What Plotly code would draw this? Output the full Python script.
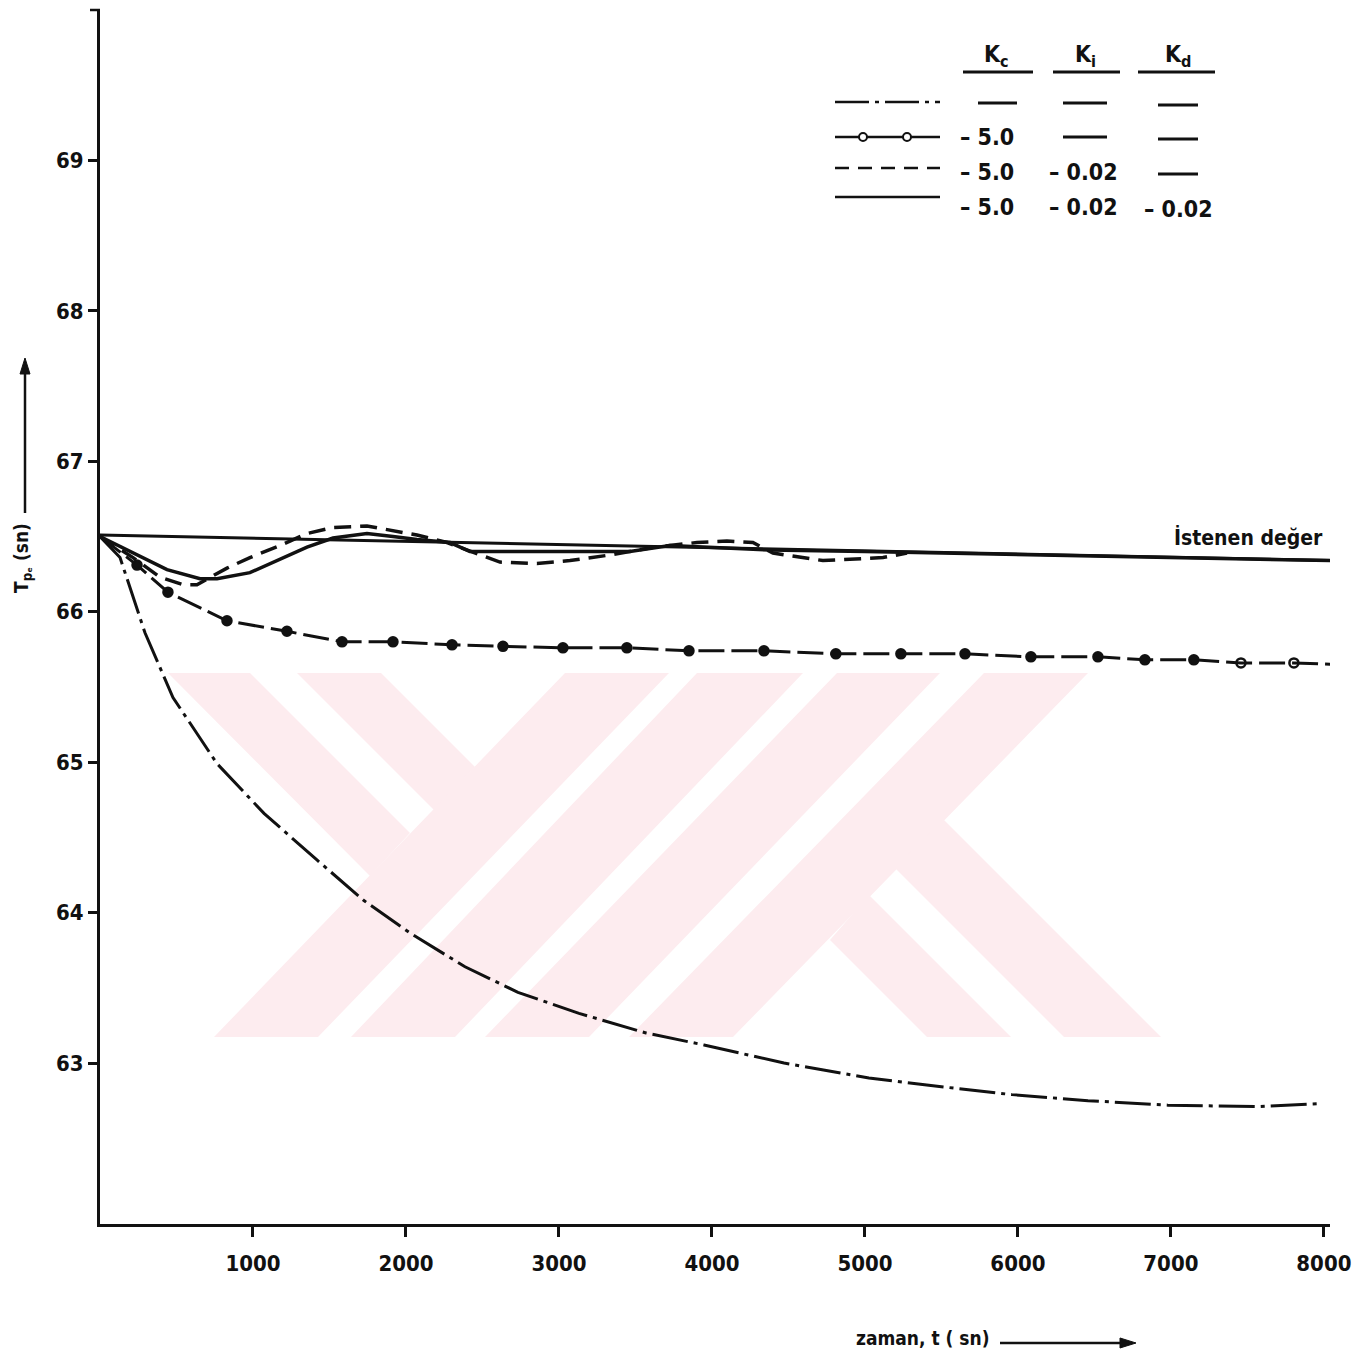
import plotly.graph_objects as go

# ---------------- data ----------------
# setpoint line "İstenen değer"
t_set = [0, 8050]
y_set = [66.51, 66.34]

# Kc = Kd = Ki = 0 (dash-dot)
t_none = [0, 131, 294, 477, 765, 1072, 1418, 1725, 2033, 2386, 2732, 3131, 3569,
          3948, 4471, 5026, 5523, 5961, 6458, 6980, 7562, 7974]
y_none = [66.50, 66.36, 65.86, 65.43, 64.99, 64.66, 64.35, 64.08, 63.86, 63.64, 63.47,
          63.33, 63.20, 63.12, 63.00, 62.90, 62.84, 62.79, 62.75, 62.72, 62.71, 62.73]

# Kc = -5.0 (line with circles)
t_p_line = [0, 242, 444, 830, 1222, 1582, 1915, 2301, 2634, 3026, 3444, 3850, 4340,
            4810, 5235, 5654, 6085, 6523, 6830, 7150, 7458, 7804, 8060]
y_p_line = [66.50, 66.31, 66.13, 65.94, 65.87, 65.80, 65.80, 65.78, 65.77, 65.76, 65.76,
            65.74, 65.74, 65.72, 65.72, 65.72, 65.70, 65.70, 65.68, 65.68, 65.66, 65.66, 65.65]
t_p_mark = t_p_line[1:-1]
y_p_mark = y_p_line[1:-1]
open_marks = [False] * 19 + [True, True]

# Kc = -5.0, Ki = -0.02 (dashed)
t_pi = [0, 216, 392, 542, 634, 830, 980, 1176, 1353, 1523, 1745, 1915, 2072, 2268,
        2614, 2856, 3072, 3353, 3627, 3902, 4098, 4268, 4399, 4725, 4948, 5118, 5275]
y_pi = [66.50, 66.36, 66.23, 66.18, 66.18, 66.29, 66.36, 66.44, 66.52, 66.56, 66.57,
        66.54, 66.51, 66.46, 66.33, 66.32, 66.34, 66.38, 66.43, 66.46, 66.47, 66.46,
        66.39, 66.34, 66.35, 66.36, 66.39]

# Kc = -5.0, Ki = -0.02, Kd = -0.02 (solid)
t_pid = [0, 216, 438, 654, 765, 980, 1196, 1353, 1523, 1745, 1915, 2072, 2288, 2418,
         2745, 3268, 3464, 3725, 4379, 5000, 6000, 7000, 8050]
y_pid = [66.50, 66.39, 66.28, 66.22, 66.22, 66.26, 66.36, 66.43, 66.49, 66.52, 66.50,
         66.48, 66.46, 66.40, 66.40, 66.40, 66.40, 66.44, 66.41, 66.40, 66.38, 66.36, 66.34]

x_ticks = [1000, 2000, 3000, 4000, 5000, 6000, 7000, 8000]
x_ticktext = ["1000", "2000", "3000", "4000", "5000", "6000", "7000", "8000"]
y_ticks = [63, 64, 65, 66, 67, 68, 69]
y_ticktext = ["63", "64", "65", "66", "67", "68", "69"]

legend_rows = [
    ["", "", ""],
    ["– 5.0", "", ""],
    ["– 5.0", "– 0.02", ""],
    ["– 5.0", "– 0.02", "– 0.02"],
]

# ---------------- layout geometry (screen pixels; page body has an 8px margin) ----------------
OFF = 8
W, H = 1361 - 2 * OFF, 1358 - 2 * OFF
PL, PR, PT, PB = 100, 1330, 10, 1224          # plot area on screen
L, R, T, B = PL - OFF, (OFF + W) - PR, PT - OFF, (OFF + H) - PB
PW, PH = PR - PL, PB - PT


def px(x):
    return (x - PL) / PW


def py(y):
    return (PB - y) / PH


FONT = "DejaVu Sans Condensed, DejaVu Sans, sans-serif"
BLACK = "#111111"

fig = go.Figure()

fig.add_trace(go.Scatter(x=t_none, y=y_none, mode="lines",
                         line=dict(color=BLACK, width=3, dash="36px,6px,4px,6px"),
                         hoverinfo="skip"))
fig.add_trace(go.Scatter(x=t_p_line, y=y_p_line, mode="lines",
                         line=dict(color=BLACK, width=3, dash="26px,7px"),
                         hoverinfo="skip", cliponaxis=False))
fig.add_trace(go.Scatter(x=t_p_mark, y=y_p_mark, mode="markers",
                         marker=dict(size=9,
                                     symbol=["circle-open" if o else "circle" for o in open_marks],
                                     color=BLACK, line=dict(width=2.5, color=BLACK)),
                         hoverinfo="skip"))
fig.add_trace(go.Scatter(x=t_pi, y=y_pi, mode="lines",
                         line=dict(color=BLACK, width=3.5, dash="17px,9px"),
                         hoverinfo="skip"))
fig.add_trace(go.Scatter(x=t_pid, y=y_pid, mode="lines",
                         line=dict(color=BLACK, width=3.5),
                         hoverinfo="skip", cliponaxis=False))
fig.add_trace(go.Scatter(x=t_set, y=y_set, mode="lines+markers",
                         line=dict(color=BLACK, width=3),
                         marker=dict(size=[0, 8], color=BLACK),
                         hoverinfo="skip", cliponaxis=False))

shapes = []

# watermark (pale pink stripes), polygons in screen pixels
wm_polys = [
    [(168, 673), (250, 673), (410, 833), (370, 876)],
    [(297, 673), (381, 673), (475, 767), (434, 810)],
    [(214, 1037), (318, 1037), (669, 673), (565, 673)],
    [(351, 1037), (455, 1037), (803, 673), (697, 673)],
    [(485, 1037), (589, 1037), (940, 673), (837, 673)],
    [(629, 1037), (733, 1037), (1088, 673), (984, 673)],
    [(927, 1037), (1011, 1037), (869, 895), (830, 940)],
    [(1064, 1037), (1161, 1037), (943, 819), (895, 868)],
]
for poly in wm_polys:
    path = "M " + " L ".join(f"{px(a):.5f},{py(b):.5f}" for a, b in poly) + " Z"
    shapes.append(dict(type="path", path=path, xref="paper", yref="paper",
                       fillcolor="#fdecef", line=dict(width=0), layer="below"))

# small tick at top of the y axis
shapes.append(dict(type="line", xref="paper", yref="paper", x0=px(90), x1=px(100),
                   y0=1, y1=1, line=dict(color=BLACK, width=2.5)))

# legend table: header underlines
for x0, x1 in [(963, 1033), (1053, 1120), (1138, 1215)]:
    shapes.append(dict(type="line", xref="paper", yref="paper", x0=px(x0), x1=px(x1),
                       y0=py(72), y1=py(72), line=dict(color=BLACK, width=3)))

# legend line samples
sample_y = [102, 137, 168, 197]
sample_dash = ["34px,6px,4px,6px", "solid", "14px,9px", "solid"]
for yy, d in zip(sample_y, sample_dash):
    shapes.append(dict(type="line", xref="paper", yref="paper", x0=px(835), x1=px(940),
                       y0=py(yy), y1=py(yy), line=dict(color=BLACK, width=2.5, dash=d)))
for cx in [863, 907]:
    shapes.append(dict(type="circle", xref="paper", yref="paper",
                       x0=px(cx - 4), x1=px(cx + 4), y0=py(137 + 4), y1=py(137 - 4),
                       fillcolor="white", line=dict(color=BLACK, width=2)))

# legend "no value" bars and values
col_dash = [(978, 1017), (1063, 1107), (1158, 1198)]
col_center = [987, 1083, 1178]
row_text_y = [103, 137, 172, 207]
annotations = []
for r, row in enumerate(legend_rows):
    for c, val in enumerate(row):
        yy = row_text_y[r] + (2 if c == 2 else 0)
        if val == "":
            x0, x1 = col_dash[c]
            shapes.append(dict(type="line", xref="paper", yref="paper", x0=px(x0), x1=px(x1),
                               y0=py(yy), y1=py(yy), line=dict(color=BLACK, width=3)))
        else:
            annotations.append(dict(x=px(col_center[c]), y=py(yy),
                                    xref="paper", yref="paper", text=val, showarrow=False,
                                    xanchor="center", yanchor="middle",
                                    font=dict(family=FONT, size=23, color=BLACK, weight="bold")))

for label, cx in [("K<sub>c</sub>", 996), ("K<sub>i</sub>", 1085), ("K<sub>d</sub>", 1178)]:
    annotations.append(dict(x=px(cx), y=py(56), xref="paper", yref="paper", text=label,
                            showarrow=False, xanchor="center", yanchor="middle",
                            font=dict(family=FONT, size=23, color=BLACK, weight="bold")))

# setpoint label
annotations.append(dict(x=px(1248), y=py(537), xref="paper", yref="paper",
                        text="İstenen değer", showarrow=False, xanchor="center",
                        yanchor="middle",
                        font=dict(family=FONT, size=21, color=BLACK, weight="bold")))

# y-axis title with arrow (arrow drawn as shapes)
annotations.append(dict(x=px(22), y=py(558), xref="paper", yref="paper",
                        text="T<sub>pₑ</sub> (sn)", textangle=-90, showarrow=False,
                        xanchor="center", yanchor="middle",
                        font=dict(family=FONT, size=19, color=BLACK, weight="bold")))
shapes.append(dict(type="line", xref="paper", yref="paper", x0=px(25), x1=px(25),
                   y0=py(513), y1=py(372), line=dict(color=BLACK, width=2.5)))
shapes.append(dict(type="path", xref="paper", yref="paper",
                   path=f"M {px(20):.5f},{py(374):.5f} L {px(30):.5f},{py(374):.5f} "
                        f"L {px(25):.5f},{py(358):.5f} Z",
                   fillcolor=BLACK, line=dict(color=BLACK, width=1)))

# x-axis title with arrow
annotations.append(dict(x=px(922), y=py(1338), xref="paper", yref="paper",
                        text="zaman, t ( sn)", showarrow=False, xanchor="center",
                        yanchor="middle",
                        font=dict(family=FONT, size=19, color=BLACK, weight="bold")))
shapes.append(dict(type="line", xref="paper", yref="paper", x0=px(1000), x1=px(1122),
                   y0=py(1343), y1=py(1343), line=dict(color=BLACK, width=2.5)))
shapes.append(dict(type="path", xref="paper", yref="paper",
                   path=f"M {px(1120):.5f},{py(1338):.5f} L {px(1120):.5f},{py(1348):.5f} "
                        f"L {px(1136):.5f},{py(1343):.5f} Z",
                   fillcolor=BLACK, line=dict(color=BLACK, width=1)))

tickfont = dict(family=FONT, size=22, color=BLACK, weight="bold")
fig.update_layout(
    width=W, height=H,
    margin=dict(l=L, r=R, t=T, b=B, autoexpand=False),
    plot_bgcolor="white", paper_bgcolor="white",
    showlegend=False,
    shapes=shapes,
    annotations=annotations,
    xaxis=dict(range=[0, 8040], tickvals=x_ticks, ticktext=x_ticktext,
               showline=True, linecolor=BLACK, linewidth=3,
               ticks="outside", ticklen=10, tickwidth=2.5, tickcolor=BLACK,
               ticklabelstandoff=8, tickfont=tickfont,
               showgrid=False, zeroline=False, automargin=False),
    yaxis=dict(range=[61.93, 70.0], tickvals=y_ticks, ticktext=y_ticktext,
               showline=True, linecolor=BLACK, linewidth=3,
               ticks="outside", ticklen=9, tickwidth=2.5, tickcolor=BLACK,
               ticklabelstandoff=0, tickfont=tickfont,
               showgrid=False, zeroline=False, automargin=False),
)

fig.write_html("out.html")
